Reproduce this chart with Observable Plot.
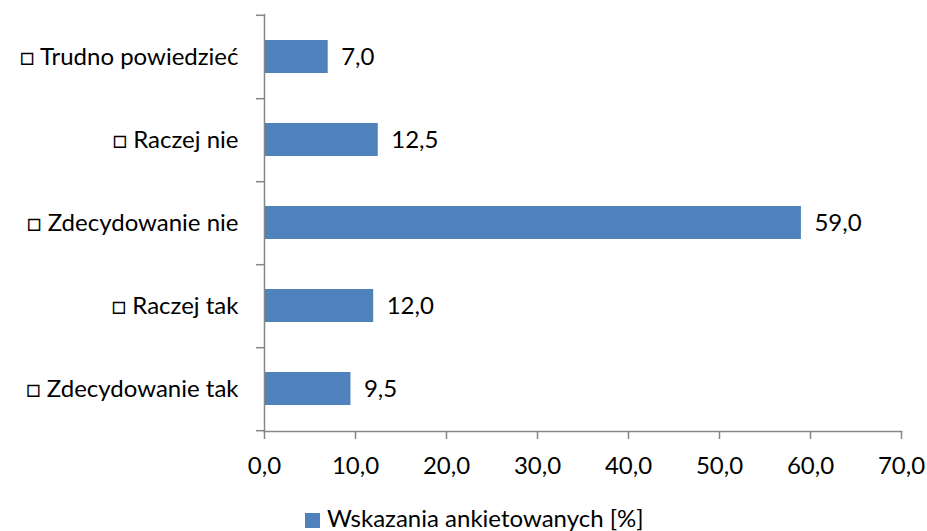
<!DOCTYPE html>
<html>
<head>
<meta charset="utf-8">
<script src="https://cdn.jsdelivr.net/npm/d3@7"></script>
<script src="https://cdn.jsdelivr.net/npm/@observablehq/plot@0.6"></script>
<style>
  html, body { margin: 0; padding: 0; background: #fff; }
  body { width: 927px; height: 531px; overflow: hidden; font-family: Lato, "Open Sans", sans-serif; }
  #legend { position: relative; height: 41px; font-size: 24px; color: #000; }
  #legend .sw { position: absolute; left: 305px; top: 23px; width: 15px; height: 15px; background: #4F81BD; }
  #legend .tx { position: absolute; left: 327px; top: 16px; line-height: 24px; white-space: nowrap; }
</style>
</head>
<body>
<div id="chart"></div>
<div id="legend"><div class="sw"></div><div class="tx">Wskazania ankietowanych [%]</div></div>
<script>
const categories = ["□ Trudno powiedzieć", "□ Raczej nie", "□ Zdecydowanie nie", "□ Raczej tak", "□ Zdecydowanie tak"];
const values = [7.0, 12.5, 59.0, 12.0, 9.5];
const xTicks = [0, 10, 20, 30, 40, 50, 60, 70];
const seriesName = "Wskazania ankietowanych [%]";

const data = categories.map((c, i) => ({category: c, value: values[i]}));
const fmt = v => v.toFixed(1).replace(".", ",");

const W = 927, H = 490, mT = 14, mB = 59, mL = 264, mR = 26;
const step = (H - mT - mB) / categories.length;
const tickLen = 8 * 70 / (W - mL - mR);
const axisColor = "#868686";

const chart = Plot.plot({
  width: W,
  height: H,
  marginTop: mT,
  marginBottom: mB,
  marginLeft: mL,
  marginRight: mR,
  style: {fontFamily: "Lato, 'Open Sans', sans-serif", fontSize: "24px", color: "#000", background: "#fff", overflow: "visible"},
  x: {domain: [0, 70], ticks: xTicks, tickFormat: fmt, label: null},
  y: {domain: categories, paddingInner: 0.6, paddingOuter: 0.3, label: null},
  marks: [
    Plot.barX(data, {x: "value", y: "category", fill: "#4F81BD"}),
    Plot.text(data, {x: "value", y: "category", text: d => fmt(d.value), textAnchor: "start", dx: 13, fill: "#000", fontSize: 24}),
    Plot.axisY({tickSize: 0, tickPadding: 26, fontSize: 24, fill: "#000", label: null}),
    Plot.axisX({ticks: xTicks, tickFormat: fmt, tickSize: 8, tickPadding: 17, fontSize: 24, stroke: axisColor, strokeOpacity: 1, strokeWidth: 1.5, fill: "#000", label: null}),
    Plot.frame({anchor: "bottom", stroke: axisColor, strokeWidth: 1.5}),
    Plot.frame({anchor: "left", stroke: axisColor, strokeWidth: 1.5}),
    Plot.ruleY(categories, {y: d => d, x1: -tickLen, x2: 0, dy: step / 2, stroke: axisColor, strokeWidth: 1.5, clip: false}),
    Plot.ruleY(categories.slice(0, 1), {y: d => d, x1: -tickLen, x2: 0, dy: -step / 2, stroke: axisColor, strokeWidth: 1.5, clip: false})
  ]
});
document.getElementById("chart").appendChild(chart);
</script>
</body>
</html>
